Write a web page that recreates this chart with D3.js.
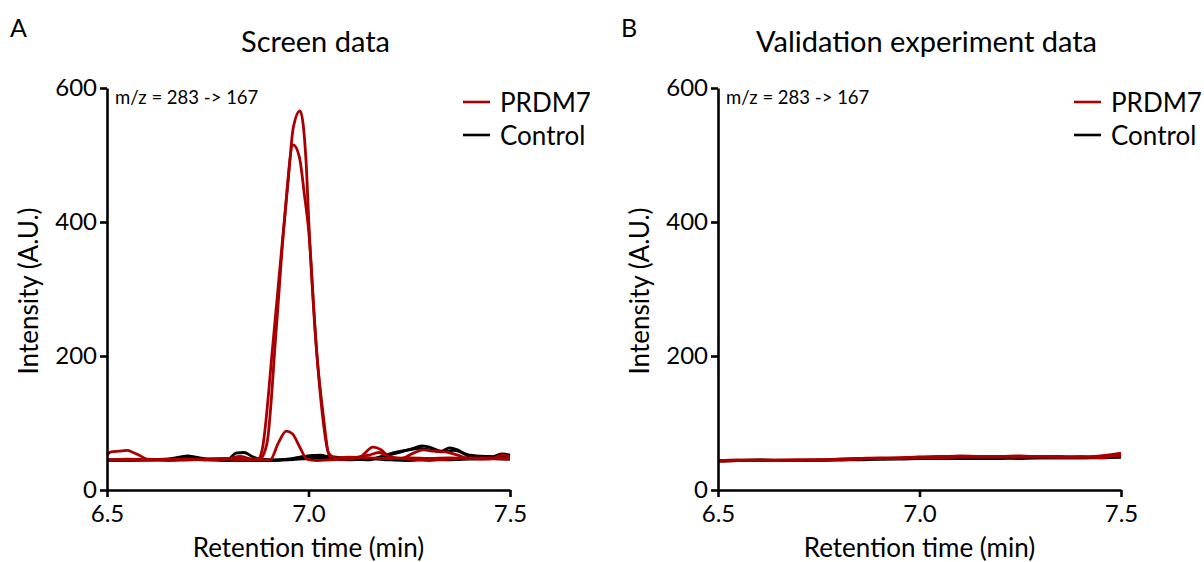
<!DOCTYPE html>
<html>
<head>
<meta charset="utf-8">
<script src="https://cdn.jsdelivr.net/npm/d3@7"></script>
<style>
  body { margin: 0; background: #fff; }
  svg { font-family: Lato, "Open Sans", sans-serif; }
</style>
</head>
<body>
<div id="chart"></div>
<script>
// ---- data ----
const yTicks = [0, 200, 400, 600];
const xTicks = [6.5, 7.0, 7.5];
const legendNames = ["PRDM7", "Control"];
const panelLetters = ["A", "B"];
const panelTitles = ["Screen data", "Validation experiment data"];
const transitionLabel = "m/z = 283 -> 167";

// Screen data traces: [retention time, intensity]
const screenRed1 = [[6.500,52],[6.510,57],[6.530,58],[6.550,59],[6.565,56],[6.580,52],[6.600,46],[6.650,45],[6.700,46],[6.750,45],[6.800,46],[6.850,45],[6.875,46],[6.885,60],[6.912,220],[6.935,370],[6.950,465],[6.962,540],[6.979,566],[6.994,490],[7.000,410],[7.021,200],[7.035,120],[7.053,50],[7.075,48],[7.100,49],[7.150,48],[7.200,47],[7.250,48],[7.300,47],[7.350,48],[7.400,47],[7.450,48],[7.500,47]];
const screenRed2 = [[6.500,45],[6.550,46],[6.600,45],[6.650,46],[6.700,45],[6.750,46],[6.800,47],[6.850,46],[6.880,47],[6.897,70],[6.920,240],[6.940,400],[6.962,515],[6.977,498],[6.990,440],[7.000,390],[7.020,210],[7.035,110],[7.050,55],[7.070,47],[7.100,46],[7.130,50],[7.160,64],[7.180,60],[7.200,50],[7.230,47],[7.260,55],[7.285,60],[7.310,58],[7.340,57],[7.370,52],[7.400,47],[7.450,46],[7.480,52],[7.500,50]];
const screenRed3 = [[6.500,44],[6.550,45],[6.600,45],[6.650,44],[6.700,45],[6.750,46],[6.800,47],[6.830,50],[6.860,46],[6.905,45],[6.925,70],[6.945,88],[6.960,84],[6.980,62],[6.996,46],[7.020,44],[7.050,45],[7.100,47],[7.150,52],[7.175,56],[7.200,50],[7.250,46],[7.300,44],[7.350,46],[7.400,48],[7.450,47],[7.500,46]];
const screenBlack1 = [[6.500,45],[6.550,45],[6.600,45],[6.650,46],[6.680,49],[6.700,51],[6.720,49],[6.750,46],[6.800,46],[6.820,55],[6.840,56],[6.860,50],[6.880,46],[6.920,45],[6.950,46],[7.000,51],[7.030,52],[7.060,47],[7.100,45],[7.150,46],[7.200,52],[7.230,57],[7.260,62],[7.280,66],[7.300,64],[7.330,58],[7.350,63],[7.370,60],[7.400,50],[7.450,48],[7.480,54],[7.500,52]];
const screenBlack2 = [[6.500,44],[6.600,45],[6.700,46],[6.750,45],[6.800,44],[6.850,45],[6.900,44],[6.950,46],[6.980,49],[7.010,51],[7.050,50],[7.100,47],[7.150,45],[7.180,50],[7.220,57],[7.250,60],[7.275,62],[7.300,60],[7.330,57],[7.360,59],[7.400,52],[7.450,50],[7.500,49]];
const screenBlack3 = [[6.500,45],[6.550,44],[6.600,45],[6.650,45],[6.700,47],[6.750,46],[6.800,45],[6.850,44],[6.900,44],[6.950,45],[7.000,47],[7.050,48],[7.100,46],[7.150,47],[7.200,45],[7.250,44],[7.300,46],[7.350,45],[7.400,46],[7.450,47],[7.500,46]];

// Validation data traces, sampled every 0.05 min from 6.5 to 7.5
const validationTimes = [6.50,6.55,6.60,6.65,6.70,6.75,6.80,6.85,6.90,6.95,7.00,7.05,7.10,7.15,7.20,7.25,7.30,7.35,7.40,7.45,7.50];
const validationRed1 = [44,44,45,44,45,45,46,47,48,48,49,49,51,50,50,51,49,49,50,48,53];
const validationRed2 = [43,44,44,44,44,45,45,46,47,47,49,48,49,50,49,50,50,50,49,51,55];
const validationRed3 = [44,45,44,45,45,44,46,47,47,48,49,50,50,49,50,49,50,49,49,50,51];
const validationBlack1 = [43,44,44,44,44,44,45,45,46,46,47,47,47,47,47,48,48,48,48,48,49];
const validationBlack2 = [44,44,45,44,44,45,45,46,46,47,47,48,47,48,48,47,48,48,48,49,49];

const red = "#a80000";
const black = "#000000";

const zipTimes = (vals) => validationTimes.map((t, i) => [t, vals[i]]);

const panels = [
  {
    left: 107,
    black: [screenBlack1, screenBlack2, screenBlack3],
    red: [screenRed1, screenRed2, screenRed3],
  },
  {
    left: 718,
    black: [zipTimes(validationBlack1), zipTimes(validationBlack2)],
    red: [zipTimes(validationRed1), zipTimes(validationRed2), zipTimes(validationRed3)],
  },
];

const width = 1204, height = 562;
const plotW = 403, plotTop = 88, plotBottom = 490;

const svg = d3.select("#chart").append("svg")
  .attr("width", width)
  .attr("height", height);

panels.forEach((p, i) => {
  const x = d3.scaleLinear().domain([6.5, 7.5]).range([p.left, p.left + plotW]);
  const y = d3.scaleLinear().domain([0, 600]).range([plotBottom, plotTop]);
  const g = svg.append("g");

  const line = d3.line()
    .x((d) => x(d[0]))
    .y((d) => y(d[1]))
    .curve(d3.curveMonotoneX);

  p.black.forEach((s) => {
    g.append("path").datum(s).attr("d", line)
      .attr("fill", "none").attr("stroke", black)
      .attr("stroke-width", 2.8).attr("stroke-linejoin", "round");
  });
  p.red.forEach((s) => {
    g.append("path").datum(s).attr("d", line)
      .attr("fill", "none").attr("stroke", red)
      .attr("stroke-width", 2.8).attr("stroke-linejoin", "round");
  });

  // axes
  const yAxis = g.append("g")
    .attr("transform", `translate(${p.left},0)`)
    .call(d3.axisLeft(y).tickValues(yTicks).tickSize(7).tickSizeOuter(0).tickPadding(3));
  const xAxis = g.append("g")
    .attr("transform", `translate(0,${plotBottom})`)
    .call(d3.axisBottom(x).tickValues(xTicks).tickFormat(d3.format(".1f")).tickSize(7).tickSizeOuter(0).tickPadding(6));

  [yAxis, xAxis].forEach((a) => {
    a.select(".domain").attr("stroke-width", 2.6);
    a.selectAll(".tick line").attr("stroke-width", 2.6);
    a.selectAll(".tick text")
      .style("font-size", "24px")
      .style("font-family", "Lato, sans-serif")
      .attr("fill", "#000");
  });
  xAxis.selectAll(".tick text").attr("dy", "0.8em");
  yAxis.selectAll(".tick text").attr("dy", "0.3em");

  // axis titles
  g.append("text")
    .attr("x", p.left + plotW / 2)
    .attr("y", 557)
    .attr("text-anchor", "middle")
    .style("font-size", "26px")
    .text("Retention time (min)");

  g.append("text")
    .attr("transform", `translate(${p.left - 69},${(plotTop + plotBottom) / 2 + 2}) rotate(-90)`)
    .attr("text-anchor", "middle")
    .style("font-size", "26px")
    .text("Intensity (A.U.)");

  // panel letter and title
  g.append("text")
    .attr("x", p.left - 97)
    .attr("y", 37)
    .style("font-size", "25px")
    .text(panelLetters[i]);

  g.append("text")
    .attr("x", p.left + plotW / 2 + 7)
    .attr("y", 52)
    .attr("text-anchor", "middle")
    .style("font-size", "29px")
    .text(panelTitles[i]);

  g.append("text")
    .attr("x", p.left + 8)
    .attr("y", 104)
    .style("font-size", "18.5px")
    .text(transitionLabel);

  // legend
  const lx = p.left + plotW;
  legendNames.forEach((name, k) => {
    const ly = 102 + k * 33;
    g.append("line")
      .attr("x1", lx - 47).attr("x2", lx - 20)
      .attr("y1", ly).attr("y2", ly)
      .attr("stroke", k === 0 ? red : black)
      .attr("stroke-width", 2.6);
    g.append("text")
      .attr("x", lx - 10)
      .attr("y", ly + 10)
      .style("font-size", "26px")
      .text(name);
  });
});
</script>
</body>
</html>
